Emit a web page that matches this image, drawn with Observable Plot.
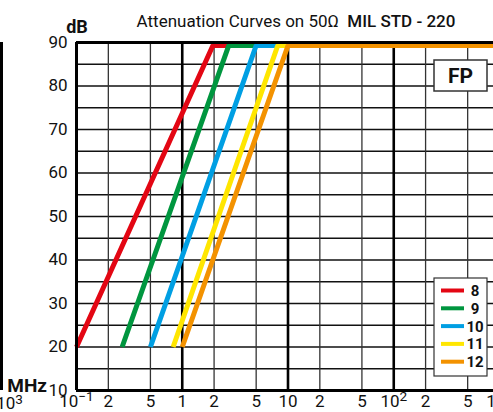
<!DOCTYPE html>
<html><head><meta charset="utf-8">
<script src="https://cdn.jsdelivr.net/npm/d3@7"></script>
<script src="https://cdn.jsdelivr.net/npm/@observablehq/plot@0.6"></script>
<style>
html,body{margin:0;padding:0;background:#fff;overflow:hidden;}
#chart{width:493px;height:412px;position:relative;overflow:hidden;}
</style></head><body><div id="chart"></div>
<script>
// ---- data ----
const seriesNames = ["8", "9", "10", "11", "12"];
const seriesColors = ["#e30613", "#00963f", "#009fe3", "#ffe600", "#f39200"];
const startMHz = [0.1, 0.27, 0.5, 0.82, 1.0];     // where each curve starts (at 20 dB)
const cornerMHz = [1.95, 2.75, 5.0, 8.0, 10.0];   // where each curve reaches the top
const startDB = [20, 20, 20, 20, 20];
const plateauDB = [89.3, 89.3, 89.3, 89.3, 89.3];
const endMHz = 1000;
const yTicks = [10, 20, 30, 40, 50, 60, 70, 80, 90];
const yHalfGrid = [15, 25, 35, 45, 55, 65, 75, 85];
const xTicks = [0.1, 0.2, 0.5, 1, 2, 5, 10, 20, 50, 100, 200, 500, 1000];
const xTickLabels = ["10^\u22121", "2", "5", "1", "2", "5", "10", "2", "5", "10^2", "2", "5", "10^3"];
const decadeGrid = [1, 10, 100];
const minorGrid = [0.2, 0.5, 2, 5, 20, 50, 200, 500];
const titleMain = "Attenuation Curves on 50\u03A9  ";
const titleBold = "MIL STD - 220";
const yUnit = "dB";
const xUnit = "MHz";
const typeLabel = "FP";

const rows = [];
seriesNames.forEach((s, i) => {
  rows.push({series: s, f: startMHz[i], db: startDB[i]});
  rows.push({series: s, f: cornerMHz[i], db: plateauDB[i]});
  rows.push({series: s, f: endMHz, db: plateauDB[i]});
});

const FONT = "Roboto, 'Liberation Sans', sans-serif";
const W = 493, H = 412, ML = 76, MT = 42, MB = 22;

const plot = Plot.plot({
  width: W, height: H, marginLeft: ML, marginTop: MT, marginBottom: MB, marginRight: 0,
  style: {fontFamily: FONT, fontSize: "17px", color: "#111", background: "#fff", overflow: "hidden"},
  x: {type: "log", domain: [0.1, 1000], range: [ML, ML + 4 * 105.75], axis: null},
  y: {domain: [10, 90]},
  color: {domain: seriesNames, range: seriesColors},
  marks: [
    Plot.ruleY(yHalfGrid.concat(yTicks.slice(1, -1)), {stroke: "#111", strokeWidth: 1.3}),
    Plot.ruleX(minorGrid, {stroke: "#333", strokeWidth: 1.3}),
    Plot.ruleX(decadeGrid, {stroke: "#000", strokeWidth: 2.6}),
    Plot.line(rows, {x: "f", y: "db", z: "series", stroke: "series", strokeWidth: 5, strokeLinejoin: "miter", strokeLinecap: "butt"}),
    Plot.ruleY([10, 90], {stroke: "#000", strokeWidth: 3}),
    Plot.ruleX([0.1], {stroke: "#000", strokeWidth: 3}),
    Plot.axisY(yTicks, {tickSize: 0, tickPadding: 9, fontSize: 17, label: null, fill: "#111"}),
    Plot.text(xTicks, {x: d => d, text: d => xTickLabels[xTicks.indexOf(d)], frameAnchor: "bottom",
      lineAnchor: "top", dy: 4, fontSize: 17, fill: "#111"})
  ]
});
document.getElementById("chart").appendChild(plot);

const svg = d3.select(plot);
// superscripts on decade labels
svg.selectAll("text").each(function () {
  const t = d3.select(this); const s = t.text();
  if (s.includes("^")) {
    const [b, e] = s.split("^");
    t.selectAll("*").remove();
    t.text(b);
    t.append("tspan").attr("dy", "-0.4em").attr("font-size", "0.8em").text(e);
  }
});

// title
const title = svg.append("text").attr("x", 296).attr("y", 27).attr("text-anchor", "middle")
  .attr("font-size", 17).attr("fill", "#111").attr("font-family", FONT);
title.append("tspan").text(titleMain);
title.append("tspan").attr("font-weight", 500).text(titleBold);

svg.append("text").attr("x", 77).attr("y", 33).attr("font-size", 18).attr("font-weight", "bold")
  .attr("fill", "#111").text(yUnit);
svg.append("text").attr("x", 47).attr("y", 392).attr("text-anchor", "end").attr("font-size", 19)
  .attr("font-weight", "bold").attr("fill", "#111").text(xUnit);

// neighbouring chart fragment at the left edge
svg.append("line").attr("x1", 1.5).attr("x2", 1.5).attr("y1", MT).attr("y2", H - MB)
  .attr("stroke", "#000").attr("stroke-width", 3);
const frag = svg.append("text").attr("x", 23).attr("y", 409).attr("text-anchor", "end")
  .attr("font-size", 17).attr("fill", "#111");
frag.append("tspan").text("10");
frag.append("tspan").attr("dy", "-0.4em").attr("font-size", "0.8em").text("3");

// FP box
svg.append("rect").attr("x", 434).attr("y", 60).attr("width", 53).attr("height", 31)
  .attr("fill", "#fff").attr("stroke", "#333").attr("stroke-width", 1.5);
svg.append("text").attr("x", 460.5).attr("y", 83).attr("text-anchor", "middle")
  .attr("font-size", 21).attr("font-weight", "bold").attr("fill", "#111").text(typeLabel);

// legend
svg.append("rect").attr("x", 434).attr("y", 278).attr("width", 53).attr("height", 98)
  .attr("fill", "#fff").attr("stroke", "#333").attr("stroke-width", 1.2);
seriesNames.forEach((s, i) => {
  const cy = 290.5 + i * 17.8;
  svg.append("line").attr("x1", 441).attr("x2", 464).attr("y1", cy).attr("y2", cy)
    .attr("stroke", seriesColors[i]).attr("stroke-width", 4);
  svg.append("text").attr("x", 475).attr("y", cy).attr("dy", "0.36em").attr("text-anchor", "middle")
    .attr("font-size", 15).attr("font-weight", "bold").attr("fill", "#111").text(s);
});
</script>
</body></html>
